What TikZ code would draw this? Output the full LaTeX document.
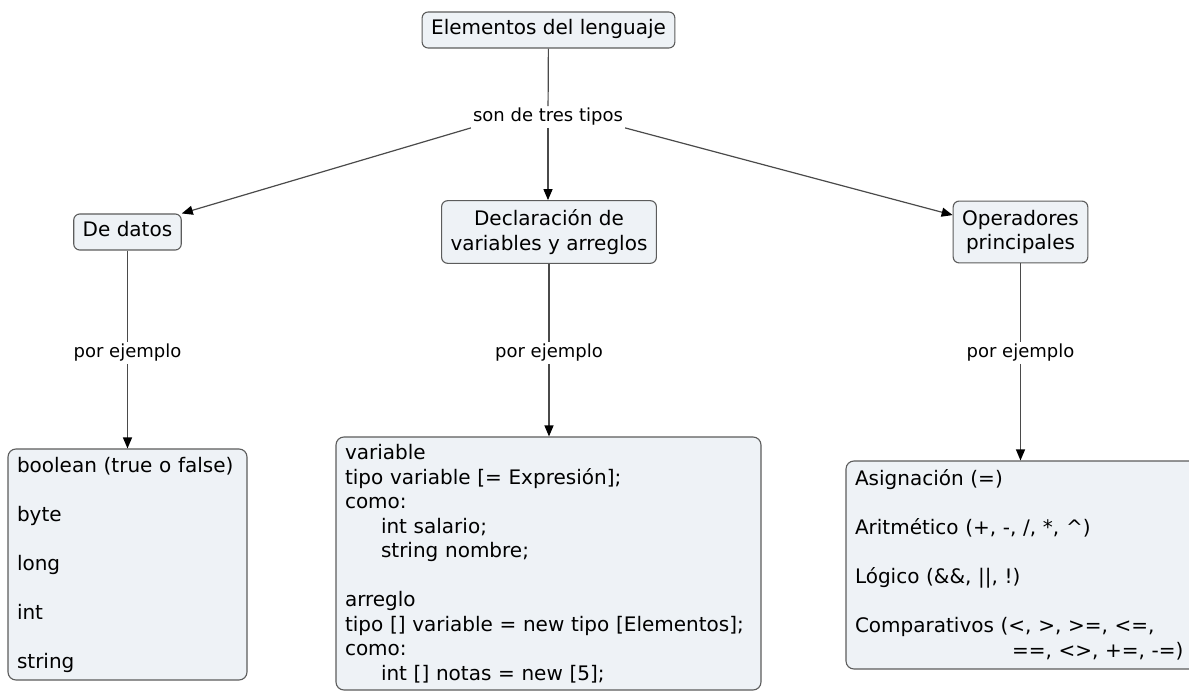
\documentclass[tikz,border=0pt]{standalone}
\usepackage{fontspec}
\setmainfont{DejaVu Sans}
\usetikzlibrary{arrows.meta,calc}
\definecolor{boxfill}{HTML}{EEF2F6}
\definecolor{boxline}{HTML}{5C5C5C}
\definecolor{linkline}{HTML}{4A4A4A}
\begin{document}
\begin{tikzpicture}[x=1pt,y=-1pt,
  concept/.style={draw=boxline, fill=boxfill, line width=1.1pt, rounded corners=6pt,
    font=\fontsize{20}{24.5}\selectfont, inner xsep=9pt, inner ysep=9pt, align=center},
  oneline/.style={inner ysep=8pt, text height=15pt, text depth=5pt},
  listbox/.style={draw=boxline, fill=boxfill, line width=1.1pt, rounded corners=8pt,
    font=\fontsize{20}{24.5}\selectfont, inner xsep=9pt, inner ysep=0pt, align=left},
  linkword/.style={fill=white, inner sep=2pt, font=\fontsize{18}{22}\selectfont},
  link/.style={draw=linkline, line width=1.2pt},
  arrowlink/.style={link, -{Triangle[length=11pt,width=9pt,color=black]}}
]
\useasboundingbox (0,0) rectangle (1189,692);

% concepts
\node[concept, oneline] (root) at (548.5,30) {Elementos del lenguaje};
\node[linkword] (types) at (548,117) {son de tres tipos};
\node[concept, oneline] (data) at (127.5,232) {De datos};
\node[concept] (decl) at (549,232) {Declaración de\\variables y arreglos};
\node[concept] (ops) at (1020.5,232) {Operadores\\principales};

% linking phrases
\node[linkword] (ex1) at (127.5,353) {por ejemplo};
\node[linkword] (ex2) at (549,353) {por ejemplo};
\node[linkword] (ex3) at (1020.5,353) {por ejemplo};

% example lists
\node[listbox, text width=221pt, minimum height=231pt] (datalist) at (127.5,564.5)
  {boolean (true o false)\\[24.5pt]
   byte\\[24.5pt]
   long\\[24.5pt]
   int\\[24.5pt]
   string};
\node[listbox, text width=407pt, minimum height=253pt] (decllist) at (548.5,563.5)
  {variable\\
   tipo variable [= Expresión];\\
   como:\\
   \hspace*{36pt}int salario;\\
   \hspace*{36pt}string nombre;\\[24.5pt]
   arreglo\\
   tipo [] variable = new tipo [Elementos];\\
   como:\\
   \hspace*{36pt}int [] notas = new [5];};
\node[listbox, text width=336pt, minimum height=208pt] (oplist) at (1023,565)
  {Asignación (=)\\[24.5pt]
   Aritmético (+, -, /, *, \textasciicircum)\\[24.5pt]
   Lógico (\&\&, ||, !)\\[24.5pt]
   Comparativos (<, >, >=, <=,\\
   \hspace*{157pt}==, <>, +=, -=)};

% connectors
\draw[link] (root) -- (types);
\draw[arrowlink] (types.south west) -- (data.north east);
\draw[arrowlink] (types) -- (types |- decl.north);
\draw[arrowlink] (types.south east) -- (ops.166);

\draw[link] (data) -- (ex1);
\draw[arrowlink] (ex1) -- (ex1 |- datalist.north);
\draw[link] (decl) -- (ex2);
\draw[arrowlink] (ex2) -- (ex2 |- decllist.north);
\draw[link] (ops) -- (ex3);
\draw[arrowlink] (ex3) -- (ex3 |- oplist.north);
\end{tikzpicture}
\end{document}
